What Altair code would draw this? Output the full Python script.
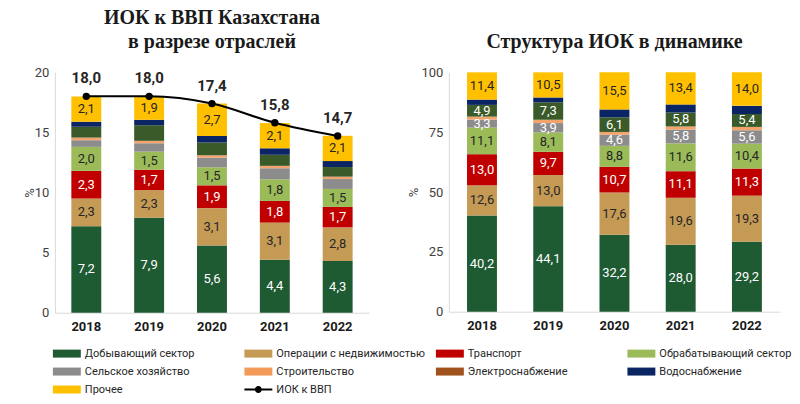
import altair as alt
import pandas as pd

years = ['2018', '2019', '2020', '2021', '2022']
categories = ['Добывающий сектор', 'Операции с недвижимостью', 'Транспорт',
              'Обрабатывающий сектор', 'Сельское хозяйство', 'Строительство',
              'Электроснабжение', 'Водоснабжение', 'Прочее']
line_name = 'ИОК к ВВП'

# Left panel: % of GDP by sector
dob_abs = [7.2, 7.9, 5.6, 4.4, 4.3]
ned_abs = [2.3, 2.3, 3.1, 3.1, 2.8]
tr_abs = [2.3, 1.7, 1.9, 1.8, 1.7]
obr_abs = [2.0, 1.5, 1.5, 1.8, 1.5]
sel_abs = [0.55, 0.7, 0.8, 0.92, 0.82]
str_abs = [0.22, 0.2, 0.2, 0.2, 0.2]
el_abs = [0.9, 1.3, 1.06, 0.92, 0.8]
vod_abs = [0.42, 0.45, 0.55, 0.54, 0.5]
oth_abs = [2.1, 1.9, 2.7, 2.1, 2.1]
totals = [18.0, 18.0, 17.4, 15.8, 14.7]

# Right panel: structure, %
dob_pct = [40.2, 44.1, 32.2, 28.0, 29.2]
ned_pct = [12.6, 13.0, 17.6, 19.6, 19.3]
tr_pct = [13.0, 9.7, 10.7, 11.1, 11.3]
obr_pct = [11.1, 8.1, 8.8, 11.6, 10.4]
sel_pct = [3.3, 3.9, 4.6, 5.8, 5.6]
str_pct = [1.3, 1.4, 1.2, 1.3, 1.4]
el_pct = [4.9, 7.3, 6.1, 5.8, 5.4]
vod_pct = [2.2, 2.0, 3.3, 3.4, 3.4]
oth_pct = [11.4, 10.5, 15.5, 13.4, 14.0]

abs_values = [dob_abs, ned_abs, tr_abs, obr_abs, sel_abs, str_abs, el_abs, vod_abs, oth_abs]
pct_values = [dob_pct, ned_pct, tr_pct, obr_pct, sel_pct, str_pct, el_pct, vod_pct, oth_pct]
abs_labeled = [True, True, True, True, False, False, False, False, True]
pct_labeled = [True, True, True, True, True, False, True, False, True]
light_text = [True, False, True, False, True, False, True, True, False]

bar_colors = ['#1E5A32', '#C49A55', '#C00000', '#9BBB59', '#8C8C8C',
              '#F2A46C', '#3B5A2A', '#0B2464', '#FFC000']
legend_names = categories + [line_name]
legend_colors = ['#1E5A32', '#C49A55', '#C00000', '#9BBB59', '#8C8C8C',
                 '#F39A5A', '#A0521C', '#0B2464', '#FFC000', '#000000']
rect_path = 'M-1.4,-0.4H1.4V0.4H-1.4Z'
line_path = ('M-1.4,-0.1H1.4V0.1H-1.4Z '
             'M-0.35,0A0.35,0.35 0 1,1 0.35,0A0.35,0.35 0 1,1 -0.35,0Z')
legend_shapes = [rect_path] * 9 + [line_path]


def fmt(v):
    return f'{v:.1f}'.replace('.', ',')


def build(values, labeled):
    rows = []
    for ci, cat in enumerate(categories):
        for yi, yr in enumerate(years):
            v = values[ci][yi]
            rows.append(dict(year=yr, cat=cat, order=ci, value=v,
                             label=fmt(v) if labeled[ci] else '',
                             light=light_text[ci]))
    return pd.DataFrame(rows)


df_abs = build(abs_values, abs_labeled)
df_pct = build(pct_values, pct_labeled)
df_tot = pd.DataFrame({'year': years, 'total': totals,
                       'tlabel': [fmt(v) for v in totals]})
df_leg = pd.DataFrame({'name': legend_names})

x_enc = alt.X('year:N', title=None, sort=years,
              scale=alt.Scale(paddingInner=0, paddingOuter=0),
              axis=alt.Axis(labelFontWeight='bold', labelColor='#1a1a1a',
                            labelFontSize=13, labelPadding=8, ticks=False,
                            labelAngle=0, domainColor='#D9D9D9'))


def panel(df, ymax, yvals, title_x):
    base = alt.Chart(df).transform_stack(
        stack='value', groupby=['year'],
        sort=[alt.SortField('order', order='ascending')],
        as_=['y0', 'y1']
    ).transform_calculate(mid='(datum.y0 + datum.y1) / 2')
    yax = alt.Axis(values=yvals, ticks=False, grid=False, labelPadding=6,
                   domainColor='#D9D9D9', titleX=title_x)
    yscale = alt.Scale(domain=[0, ymax], nice=False)
    bars = base.mark_bar(size=30).encode(
        x=x_enc,
        y=alt.Y('y0:Q', scale=yscale, axis=yax, title='%'),
        y2='y1:Q',
        color=alt.Color('cat:N', scale=alt.Scale(domain=categories, range=bar_colors),
                        legend=None),
    )
    t_light = base.transform_filter('datum.label != "" && datum.light').mark_text(
        color='#FFFFFF', fontSize=13, font='Roboto'
    ).encode(x=x_enc, y=alt.Y('mid:Q', scale=yscale, title='%'), text='label:N')
    t_dark = base.transform_filter('datum.label != "" && !datum.light').mark_text(
        color='#262626', fontSize=13, font='Roboto'
    ).encode(x=x_enc, y=alt.Y('mid:Q', scale=yscale, title='%'), text='label:N')
    return bars, t_light, t_dark, yscale


lb, ll, ld, lys = panel(df_abs, 20, [0, 5, 10, 15, 20], -18)
tot_base = alt.Chart(df_tot)
line = tot_base.mark_line(interpolate='monotone', color='black', strokeWidth=2).encode(
    x=x_enc, y=alt.Y('total:Q', scale=lys, title='%'))
pts = tot_base.mark_point(filled=True, size=55, color='black', opacity=1).encode(
    x=x_enc, y=alt.Y('total:Q', scale=lys, title='%'))
tlab = tot_base.mark_text(dy=-18, fontSize=15, fontWeight='bold', color='#262626',
                          font='Roboto').encode(
    x=x_enc, y=alt.Y('total:Q', scale=lys, title='%'), text='tlabel:N')

leg_params = dict(orient='none', legendX=2, legendY=272, columns=4, title=None,
                  direction='horizontal',
                  labelFont='Roboto', labelFontSize=11, labelColor='#262626',
                  symbolSize=400, symbolStrokeWidth=0, symbolOpacity=1,
                  labelOffset=8, rowPadding=3, columnPadding=10, gridAlign='all',
                  labelLimit=0)
leg_layer = alt.Chart(df_leg).mark_point(filled=True, opacity=0).encode(
    x=alt.value(0), y=alt.value(0),
    fill=alt.Fill('name:N', scale=alt.Scale(domain=legend_names, range=legend_colors),
                  legend=alt.Legend(**leg_params)),
    shape=alt.Shape('name:N', scale=alt.Scale(domain=legend_names, range=legend_shapes),
                    legend=alt.Legend(**leg_params)),
)

left = alt.layer(lb, ll, ld, line, pts, tlab, leg_layer).properties(
    width=315, height=241,
    title=alt.TitleParams(text=['ИОК к ВВП Казахстана', 'в разрезе отраслей']))

rb, rl, rd, rys = panel(df_pct, 100, [0, 25, 50, 75, 100], -28)
right = alt.layer(rb, rl, rd).properties(
    width=332, height=240,
    title=alt.TitleParams(text=[' ', 'Структура ИОК в динамике']))

chart = alt.hconcat(left, right, spacing=39).configure(
    padding={'left': 16, 'top': 0, 'right': 0, 'bottom': 0}, font='Roboto'
).configure_view(stroke=None).configure_title(
    font='Liberation Serif', fontSize=20, fontWeight='bold', color='#1a1a1a',
    anchor='middle', lineHeight=24, offset=14
).configure_axis(
    labelFont='Roboto', labelFontSize=13, labelColor='#404040',
    titleFont='Roboto', titleFontSize=13, titleFontWeight='normal', titleColor='#404040'
)

chart.save('out.html', embed_options={'renderer': 'svg', 'actions': False})
